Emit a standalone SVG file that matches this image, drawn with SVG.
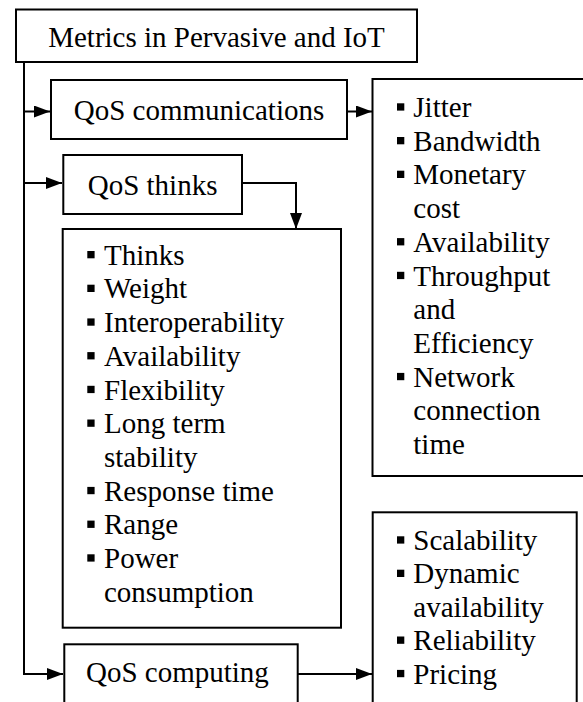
<svg xmlns="http://www.w3.org/2000/svg" width="583" height="702" viewBox="0 0 583 702">
<style>
.box{fill:#fff;stroke:#000;stroke-width:2}
.t{font-family:"Liberation Serif","Times New Roman",serif;font-size:29px;fill:#000}
.c{fill:none;stroke:#000;stroke-width:2}
.b{fill:#000}
</style>
<defs>
<marker id="ah" markerUnits="userSpaceOnUse" markerWidth="16" markerHeight="12" refX="16" refY="6" orient="auto">
<path d="M0,0 L16,6 L0,12 Z" fill="#000"/>
</marker>
</defs>
<rect width="583" height="702" fill="#fff"/>
<g id="connectors">
<path class="c" d="M24,62 V674 H63" marker-end="url(#ah)"/>
<path class="c" d="M24,111.5 H50" marker-end="url(#ah)"/>
<path class="c" d="M24,183 H62" marker-end="url(#ah)"/>
<path class="c" d="M347,111.5 H372" marker-end="url(#ah)"/>
<path class="c" d="M242,183 H296 V229" marker-end="url(#ah)"/>
<path class="c" d="M298,674 H372" marker-end="url(#ah)"/>
</g>
<g id="metrics">
<rect class="box" x="16" y="9.5" width="401" height="52.5"/>
<text class="t" x="216.5" y="46.5" text-anchor="middle">Metrics in Pervasive and IoT</text>
</g>
<g id="qos-communications">
<rect class="box" x="51" y="80" width="296" height="59"/>
<text class="t" x="199" y="120" text-anchor="middle">QoS communications</text>
</g>
<g id="qos-thinks">
<rect class="box" x="63.3" y="155" width="178.7" height="59"/>
<text class="t" x="152.6" y="195" text-anchor="middle">QoS thinks</text>
</g>
<g id="qos-computing">
<rect class="box" x="64.3" y="644.3" width="233.4" height="80"/>
<text class="t" x="86" y="682">QoS computing</text>
</g>
<g id="communications-list">
<rect class="box" x="372.5" y="79" width="230" height="397"/>
<rect class="b" x="397" y="103.3" width="7.3" height="7.3"/>
<rect class="b" x="397" y="137" width="7.3" height="7.3"/>
<rect class="b" x="397" y="170.7" width="7.3" height="7.3"/>
<rect class="b" x="397" y="238.1" width="7.3" height="7.3"/>
<rect class="b" x="397" y="271.8" width="7.3" height="7.3"/>
<rect class="b" x="397" y="372.9" width="7.3" height="7.3"/>
<text class="t" x="413.3" y="117">Jitter</text>
<text class="t" x="413.3" y="150.7">Bandwidth</text>
<text class="t" x="413.3" y="184.4">Monetary</text>
<text class="t" x="413.3" y="218.1">cost</text>
<text class="t" x="413.3" y="251.8">Availability</text>
<text class="t" x="413.3" y="285.5">Throughput</text>
<text class="t" x="413.3" y="319.2">and</text>
<text class="t" x="413.3" y="352.9">Efficiency</text>
<text class="t" x="413.3" y="386.6">Network</text>
<text class="t" x="413.3" y="420.3">connection</text>
<text class="t" x="413.3" y="454">time</text>
</g>
<g id="thinks-list">
<rect class="box" x="62.7" y="229" width="278.3" height="398.7"/>
<rect class="b" x="87.3" y="251" width="7.3" height="7.3"/>
<rect class="b" x="87.3" y="284.7" width="7.3" height="7.3"/>
<rect class="b" x="87.3" y="318.4" width="7.3" height="7.3"/>
<rect class="b" x="87.3" y="352.1" width="7.3" height="7.3"/>
<rect class="b" x="87.3" y="385.8" width="7.3" height="7.3"/>
<rect class="b" x="87.3" y="419.5" width="7.3" height="7.3"/>
<rect class="b" x="87.3" y="486.9" width="7.3" height="7.3"/>
<rect class="b" x="87.3" y="520.6" width="7.3" height="7.3"/>
<rect class="b" x="87.3" y="554.3" width="7.3" height="7.3"/>
<text class="t" x="104" y="264.7">Thinks</text>
<text class="t" x="104" y="298.4">Weight</text>
<text class="t" x="104" y="332.1">Interoperability</text>
<text class="t" x="104" y="365.8">Availability</text>
<text class="t" x="104" y="399.5">Flexibility</text>
<text class="t" x="104" y="433.2">Long term</text>
<text class="t" x="104" y="466.9">stability</text>
<text class="t" x="104" y="500.6">Response time</text>
<text class="t" x="104" y="534.3">Range</text>
<text class="t" x="104" y="568">Power</text>
<text class="t" x="104" y="601.7">consumption</text>
</g>
<g id="computing-list">
<rect class="box" x="372.7" y="512.3" width="204" height="220"/>
<rect class="b" x="397" y="536.3" width="7.3" height="7.3"/>
<rect class="b" x="397" y="569.7" width="7.3" height="7.3"/>
<rect class="b" x="397" y="636.5" width="7.3" height="7.3"/>
<rect class="b" x="397" y="669.9" width="7.3" height="7.3"/>
<text class="t" x="413.3" y="550">Scalability</text>
<text class="t" x="413.3" y="583.4">Dynamic</text>
<text class="t" x="413.3" y="616.8">availability</text>
<text class="t" x="413.3" y="650.2">Reliability</text>
<text class="t" x="413.3" y="683.6">Pricing</text>
</g>
</svg>
